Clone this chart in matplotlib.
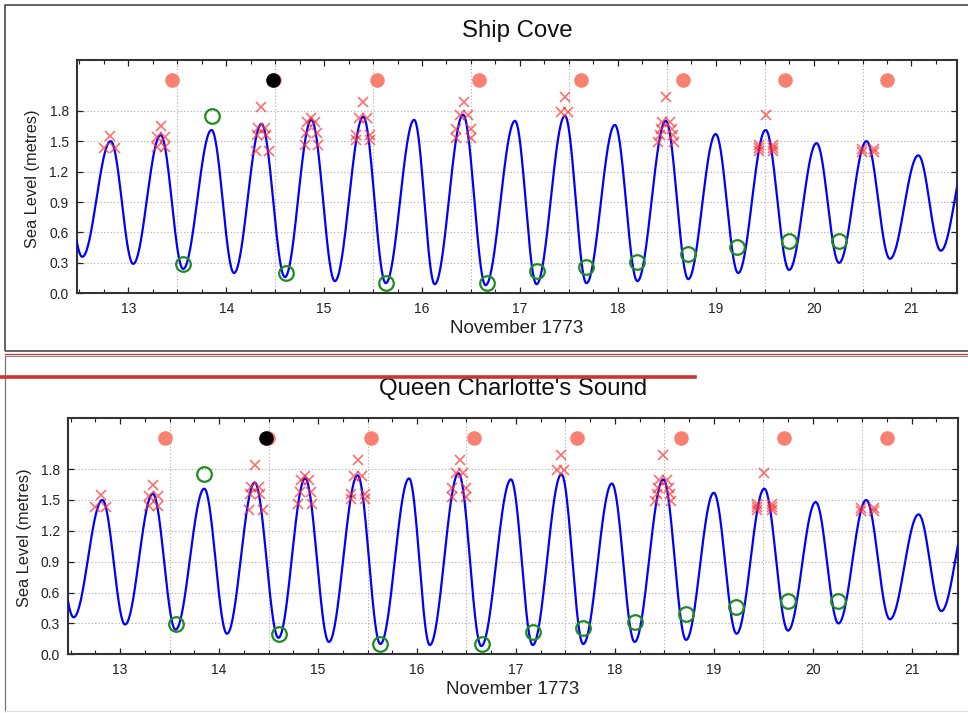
import numpy as np
import matplotlib
matplotlib.use("Agg")
import matplotlib.pyplot as plt
from matplotlib.lines import Line2D
from matplotlib.patches import Rectangle

plt.rcParams['font.family'] = ['Liberation Sans', 'DejaVu Sans']

W, H = 968, 713

# predicted tide, turning points (day of November 1773, metres)
turn_day = [12.30, 12.53, 12.82, 13.05, 13.33, 13.56, 13.85, 14.08, 14.36, 14.60,
            14.87, 15.11, 15.40, 15.63, 15.92, 16.13, 16.42, 16.65, 16.95, 17.17,
            17.46, 17.68, 17.97, 18.20, 18.49, 18.72, 19.00, 19.23, 19.51, 19.75,
            20.03, 20.26, 20.54, 20.78, 21.07, 21.30, 21.58]
turn_level = [1.42, 0.36, 1.50, 0.29, 1.56, 0.24, 1.61, 0.20, 1.67, 0.16,
              1.71, 0.12, 1.74, 0.10, 1.71, 0.09, 1.76, 0.08, 1.70, 0.09,
              1.75, 0.10, 1.66, 0.12, 1.70, 0.14, 1.57, 0.20, 1.61, 0.23,
              1.48, 0.30, 1.50, 0.34, 1.36, 0.42, 1.40]

# observed high waters (red crosses)
high_day = [12.81, 12.75, 12.86,
            13.33, 13.29, 13.38, 13.29, 13.38,
            14.36, 14.32, 14.40, 14.31, 14.41, 14.30, 14.44,
            14.87, 14.83, 14.91, 14.82, 14.93, 14.80, 14.94,
            15.40, 15.36, 15.44, 15.33, 15.47, 15.33, 15.47,
            16.43, 16.39, 16.47, 16.35, 16.50, 16.35, 16.50,
            17.46, 17.42, 17.49,
            18.49, 18.45, 18.53, 18.44, 18.55, 18.43, 18.56, 18.41, 18.57,
            19.51, 19.44, 19.44, 19.44, 19.59, 19.59, 19.59,
            20.49, 20.49, 20.62, 20.62]
high_level = [1.55, 1.43, 1.43,
              1.65, 1.54, 1.54, 1.44, 1.44,
              1.84, 1.63, 1.63, 1.56, 1.56, 1.40, 1.40,
              1.73, 1.69, 1.69, 1.58, 1.58, 1.46, 1.46,
              1.89, 1.73, 1.73, 1.56, 1.56, 1.51, 1.51,
              1.89, 1.76, 1.76, 1.62, 1.62, 1.53, 1.53,
              1.94, 1.79, 1.79,
              1.94, 1.69, 1.69, 1.62, 1.62, 1.56, 1.56, 1.49, 1.49,
              1.76, 1.46, 1.43, 1.40, 1.46, 1.43, 1.40,
              1.42, 1.39, 1.42, 1.39]

# observed low waters (green circles)
low_day = [13.56, 13.85, 14.61, 15.63, 16.66, 17.17, 17.68, 18.20, 18.72, 19.22, 19.75, 20.26]
low_level = [0.29, 1.75, 0.20, 0.10, 0.10, 0.22, 0.26, 0.31, 0.39, 0.46, 0.52, 0.52]

# moon markers along the top
moon_day = [13.45, 14.49, 15.54, 16.58, 17.62, 18.67, 19.71, 20.75]
black_day = [14.475]
marker_level = 2.1

y_ticks = [0.0, 0.3, 0.6, 0.9, 1.2, 1.5, 1.8]
x_ticks = [13, 14, 15, 16, 17, 18, 19, 20, 21]


def tide_curve(days, levels, n=40):
    # smooth half-cosine between the read turning points
    xs, ys = [], []
    for i in range(len(days) - 1):
        s = np.linspace(0, 1, n, endpoint=False)
        xs.append(days[i] + s * (days[i + 1] - days[i]))
        ys.append(levels[i] + (levels[i + 1] - levels[i]) * (1 - np.cos(np.pi * s)) / 2)
    xs.append([days[-1]])
    ys.append([levels[-1]])
    return np.concatenate(xs), np.concatenate(ys)


def fx(x):
    return x / W


def fy(y):
    return 1 - y / H


fig = plt.figure(figsize=(W / 100, H / 100), dpi=100)

# page decorations (screenshot frames)
fig.add_artist(Rectangle((fx(5), fy(351)), fx(1000), 346 / H, transform=fig.transFigure,
                         fill=False, ec='#3a3a3a', lw=1.1))
fig.add_artist(Line2D([fx(5), 1], [fy(353.6), fy(353.6)], transform=fig.transFigure,
                      color='#cc3333', lw=0.9))
fig.add_artist(Line2D([fx(5), 1], [fy(356), fy(356)], transform=fig.transFigure,
                      color='#888888', lw=0.8))
fig.add_artist(Line2D([fx(5), fx(5)], [fy(356), fy(711)], transform=fig.transFigure,
                      color='#777777', lw=0.9))
fig.add_artist(Line2D([fx(5), 1], [fy(711), fy(711)], transform=fig.transFigure,
                      color='#dddddd', lw=0.8))

tx, ty = tide_curve(turn_day, turn_level)

panels = [
    # title, axes box (left, top, right, bottom px), title baseline, xlabel baseline, ylabel x
    ("Ship Cove", (77, 60, 957, 293.3), 37, 333, 33),
    ("Queen Charlotte's Sound", (68.3, 417.7, 957.7, 654.3), 395, 694, 25),
]

for title, (l, t, r, b), ty_px, xl_px, yl_px in panels:
    ax = fig.add_axes([fx(l), fy(b), (r - l) / W, (b - t) / H])
    ax.set_xlim(12.476, 21.465)
    ax.set_ylim(0, 2.3)

    for d in np.arange(13.5, 21.0, 1.0):
        ax.axvline(d, color='#aaaaaa', lw=0.8, ls=(0, (1, 2)), zorder=0)
    for v in y_ticks[1:]:
        ax.axhline(v, color='#aaaaaa', lw=0.8, ls=(0, (1, 2)), zorder=0)

    ax.plot(tx, ty, color='#0000ff', lw=1.6, zorder=3)
    ax.plot(high_day, high_level, 'x', color='#ff3030', alpha=0.7, ms=7, mew=1.2, zorder=4)
    ax.plot(low_day, low_level, 'o', mfc='none', mec='#1e8c1e', ms=10.5, mew=1.6, zorder=4)
    ax.plot(moon_day, [marker_level] * len(moon_day), 'o', color='#fa8072', ms=10.5, mew=0, zorder=4)
    ax.plot(black_day, [marker_level] * len(black_day), 'o', color='black', ms=10.5, mew=0, zorder=5)

    ax.set_xticks(x_ticks)
    ax.set_xticks([d for d in np.arange(12.5, 21.5, 0.25) if d % 1 != 0], minor=True)
    ax.set_yticks(y_ticks)
    ax.set_yticklabels(['%.1f' % v for v in y_ticks])
    ax.tick_params(which='both', direction='in', top=True, right=True,
                   labelsize=10, colors='#222222', pad=6)
    ax.tick_params(which='major', length=4.5, width=0.9)
    ax.tick_params(which='minor', length=3, width=0.8)
    for s in ax.spines.values():
        s.set_color('#333333')
        s.set_linewidth(1.5)

    cx = (l + r) / 2
    fig.text(fx(cx), fy(ty_px), title, ha='center', va='baseline', fontsize=17.3, color='#111111')
    fig.text(fx(cx), fy(xl_px), 'November 1773', ha='center', va='baseline', fontsize=13.5,
             color='#222222')
    fig.text(fx(yl_px), fy((t + b) / 2 + 2), 'Sea Level (metres)', ha='center', va='center',
             rotation=90, fontsize=11.8, color='#222222')

# red bar across the lower frame
fig.add_artist(Line2D([0, fx(695)], [fy(376.7), fy(376.7)], transform=fig.transFigure,
                      color='#cc3333', lw=2.6, zorder=10))

fig.savefig('out.png', dpi=100)
